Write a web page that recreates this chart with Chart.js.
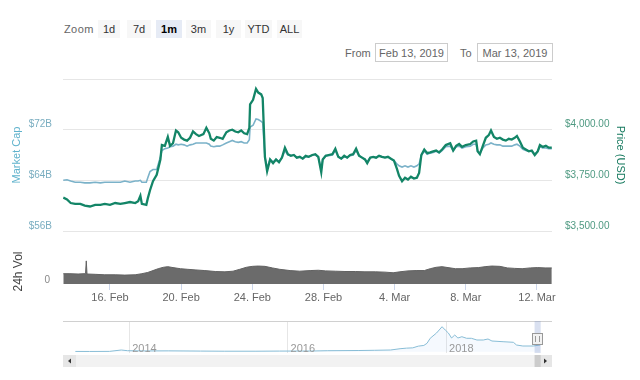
<!DOCTYPE html>
<html><head><meta charset="utf-8">
<script src="https://cdn.jsdelivr.net/npm/chart.js@4.4.1/dist/chart.umd.min.js"></script>
<style>
html,body{margin:0;padding:0;background:#fff;width:640px;height:380px;overflow:hidden;font-family:"Liberation Sans",Arial,sans-serif;}
.t{position:absolute;font-size:11px;color:#666;white-space:nowrap;}
.btn{position:absolute;top:20px;height:18px;line-height:18px;background:#f7f7f7;color:#333;font-size:11px;text-align:center;}
.sel{background:#e6ebf5;font-weight:bold;color:#000;}
.box{position:absolute;top:43px;height:19px;line-height:19px;border:1px solid #cccccc;color:#666;font-size:11px;text-align:center;box-sizing:border-box;}
canvas{position:absolute;left:0;}
</style></head><body>
<div class="t" style="left:64px;top:23px;letter-spacing:0.4px">Zoom</div>
<div class="btn" style="left:98px;width:22px">1d</div>
<div class="btn" style="left:127px;width:24px">7d</div>
<div class="btn sel" style="left:156px;width:26px">1m</div>
<div class="btn" style="left:186px;width:25px">3m</div>
<div class="btn" style="left:216px;width:25px">1y</div>
<div class="btn" style="left:245px;width:27px">YTD</div>
<div class="btn" style="left:277px;width:25px">ALL</div>
<div class="t" style="left:345px;top:47px">From</div>
<div class="box" style="left:375px;width:73px">Feb 13, 2019</div>
<div class="t" style="left:460px;top:47px">To</div>
<div class="box" style="left:477px;width:76px">Mar 13, 2019</div>
<canvas id="main" width="640" height="190" style="top:60px"></canvas>
<canvas id="vol" width="640" height="72" style="top:240px"></canvas>
<canvas id="nav" width="640" height="56" style="top:316px"></canvas>
<script>
const FONT = '"Liberation Sans", Arial, sans-serif';

// hours since 13 Feb 2019 00:00
const hours = [9,14,19,25,32,38,45,52,59,65,
 72,79,86,92,99,106,110,113,115,121,
 123,126,130,135,140,142,146,150,153,157,
 161,164,168,172,176,180,184,188,192,198,
 202,206,208,212,216,220,224,229,233,237,
 241,245,249,253,257,260,261,265,269,272,
 276,278,281,284,288,292,296,300,304,308,
 312,316,320,324,328,332,336,340,345,349,
 353,357,359,363,367,372,376,380,384,388,
 392,396,400,404,408,412,416,419,423,427,
 431,435,439,443,447,451,455,459,462,466,
 470,474,478,482,486,489,492,496,500,504,
 508,512,516,520,525,531,535,539,543,547,
 552,558,562,566,568,571,575,579,583,586,
 590,594,598,602,606,610,614,618,621,625,
 629,633,637,641,645,649,652,656,660,664,
 668];
const priceUSD = [3665,3656,3638,3634,3634,3625,3621,3629,3629,3634,
 3629,3638,3634,3638,3643,3638,3647,3674,3634,3629,
 3661,3701,3746,3777,3853,3924,3920,3964,3920,3933,
 3996,3987,3960,3951,3946,3960,3991,3978,3969,3978,
 4009,3982,3955,3946,3964,3960,3955,3987,3996,4000,
 3991,3987,3996,3982,3978,4009,4125,4147,4201,4183,
 4174,4156,3866,3795,3853,3835,3853,3839,3862,3911,
 3879,3871,3875,3862,3866,3857,3871,3866,3875,3879,
 3866,3790,3853,3871,3875,3879,3906,3866,3857,3871,
 3862,3875,3879,3906,3871,3862,3853,3835,3862,3866,
 3862,3871,3866,3862,3866,3857,3848,3808,3772,3746,
 3763,3754,3768,3759,3763,3786,3875,3902,3884,3888,
 3893,3897,3888,3902,3924,3933,3897,3920,3929,3915,
 3924,3929,3942,3946,3893,3879,3920,3960,3973,3996,
 3964,3955,3960,3951,3946,3955,3951,3960,3969,3942,
 3911,3902,3893,3897,3875,3893,3924,3915,3920,3911,
 3911];
const marketCapB = [64.0,64.1,63.9,63.7,63.7,63.6,63.6,63.7,63.6,63.7,
 63.7,63.7,63.7,63.9,63.7,63.9,63.9,64.0,63.7,63.7,
 64.4,65.4,65.7,65.7,67.7,68.7,69.0,69.1,69.3,69.4,
 69.7,69.6,69.7,69.6,69.4,69.6,69.7,69.9,69.9,69.9,
 69.9,69.7,69.4,69.3,69.4,69.4,69.6,69.9,70.1,70.3,
 70.1,70.0,70.1,69.9,69.9,70.4,72.4,72.7,73.7,73.6,
 73.3,73.1,67.7,66.0,67.3,66.9,67.3,67.0,67.6,68.7,
 68.0,67.9,68.0,67.6,67.7,67.4,67.7,67.7,68.0,68.0,
 67.7,65.7,67.3,67.9,67.9,68.0,68.7,67.7,67.4,67.7,
 67.6,67.9,68.0,68.7,67.9,67.6,67.3,66.9,67.6,67.7,
 67.6,67.9,67.7,67.6,67.7,67.4,67.1,66.6,66.3,66.1,
 66.3,66.1,66.3,66.1,66.3,66.6,67.9,68.6,68.1,68.3,
 68.4,68.6,68.3,68.7,69.3,69.4,68.7,69.3,69.4,69.1,
 69.3,69.4,69.7,69.7,68.6,68.3,69.1,69.6,69.7,69.9,
 69.7,69.6,69.6,69.4,69.4,69.4,69.4,69.6,69.7,69.4,
 68.9,68.7,68.6,68.6,68.1,68.6,69.3,69.1,69.1,69.0,
 69.0];

const volHours = [9,18,29,37,39,40,41,52,65,79,
 92,106,115,123,130,137,144,150,157,167,
 177,188,200,214,227,238,247,256,264,272,
 281,291,301,315,328,342,353,363,376,389,
 403,416,430,443,454,463,474,485,496,504,
 512,520,528,538,547,558,569,578,587,598,
 608,618,628,639,649,659,668];
const volumeB = [6.6,6.6,6.4,6.6,6.6,14.8,6.4,6.2,5.9,5.9,
 5.7,5.9,6.6,7.4,8.6,9.8,10.7,11.1,10.5,9.8,
 9.4,9.0,8.6,8.0,7.8,8.2,9.4,10.7,11.3,11.5,
 11.3,10.3,9.4,8.6,8.2,8.6,8.8,8.4,8.2,8.0,
 8.0,7.8,7.8,7.6,7.2,7.8,8.4,8.6,8.6,9.8,
 10.7,11.1,10.5,9.8,9.8,10.3,10.5,11.1,11.5,11.3,
 10.3,10.0,9.8,10.3,10.5,10.3,10.3];

const navYears = [2013.32,2013.5,2013.75,2013.9,2013.98,2014.2,2014.5,2014.9,2015.2,2015.6,
 2015.9,2016.3,2016.5,2016.9,2017.1,2017.3,2017.42,2017.5,2017.58,2017.65,
 2017.72,2017.76,2017.80,2017.88,2017.95,2017.99,2018.03,2018.07,2018.11,2018.15,
 2018.2,2018.26,2018.32,2018.39,2018.47,2018.53,2018.58,2018.72,2018.85,2018.89,
 2018.97,2019.1,2019.19];
const navValues = [300,280,330,1300,800,650,700,550,450,450,
 550,600,800,950,1100,1300,2200,2600,2800,4000,
 4500,6000,9500,13200,17600,15300,13200,9700,11800,9700,
 10600,9500,9500,8300,8300,9000,7600,7100,6700,4800,
 4100,4100,4800];

const capTicks = [56,64,72,80];
const priceTicks = [3500,3750,4000,4250];
const volTicks = [0];
const dateTickHours = [72,168,264,360,456,552,648];
const dateTickLabels = ['16. Feb','20. Feb','24. Feb','28. Feb','4. Mar','8. Mar','12. Mar'];
const navTickYears = [2014,2016,2018];
const navTickLabels = ['2014','2016','2018'];
const X_MIN = 8.6, X_MAX = 668.3;
const NAV_MIN = 2013.164, NAV_MAX = 2019.338;
const SEL_FROM = 2019.118, SEL_TO = 2019.195;

const common = {responsive:false, animation:false, events:[],
  plugins:{legend:{display:false}, tooltip:{enabled:false}}};

new Chart(document.getElementById('main'), {
  type:'line',
  data:{datasets:[
    {label:'Price (USD)', data:hours.map((h,i)=>({x:h,y:priceUSD[i]})), yAxisID:'yPrice',
     borderColor:'#138567', borderWidth:2.3, pointRadius:0, tension:0},
    {label:'Market Cap', data:hours.map((h,i)=>({x:h,y:marketCapB[i]})), yAxisID:'yCap',
     borderColor:'#7bb2c9', borderWidth:1.6, pointRadius:0, tension:0}
  ]},
  options:Object.assign({}, common, {
    layout:{padding:{top:14,bottom:8,left:0,right:0}},
    scales:{
      x:{type:'linear', min:X_MIN, max:X_MAX, display:false},
      yCap:{position:'left', min:56, max:80,
        afterBuildTicks:s=>{s.ticks = capTicks.map(v=>({value:v}));},
        afterFit:s=>{s.width = 63;},
        ticks:{color:'#79adc0', font:{size:10,family:FONT}, padding:11, labelOffset:-5,
          callback:v=> v===80 ? '' : '$'+v+'B'},
        grid:{color:'#e6e6e6', drawTicks:false},
        border:{display:false},
        title:{display:true, text:'Market Cap', color:'#5fb2cc', font:{size:11,family:FONT}, padding:{top:10,bottom:0}}
      },
      yPrice:{position:'right', min:3500, max:4250,
        afterBuildTicks:s=>{s.ticks = priceTicks.map(v=>({value:v}));},
        afterFit:s=>{s.width = 88;},
        ticks:{color:'#4f9a82', font:{size:10,family:FONT}, padding:13, labelOffset:-5,
          callback:v=> v===4250 ? '' : '$'+v.toLocaleString('en-US',{minimumFractionDigits:2})},
        grid:{display:false, drawTicks:false},
        border:{display:false},
        title:{display:true, text:'Price (USD)', color:'#177a5f', font:{size:11,family:FONT}, padding:{top:13,bottom:0}}
      }
    }
  })
});

new Chart(document.getElementById('vol'), {
  type:'line',
  data:{datasets:[
    {label:'24h Vol', data:volHours.map((h,i)=>({x:h,y:volumeB[i]})),
     borderColor:'#626262', borderWidth:1, backgroundColor:'#6b6b6b', fill:'origin', pointRadius:0, tension:0}
  ]},
  options:Object.assign({}, common, {
    layout:{padding:{top:4,bottom:0,left:0,right:88}},
    scales:{
      x:{type:'linear', min:X_MIN, max:X_MAX,
        afterBuildTicks:s=>{s.ticks = dateTickHours.map(v=>({value:v}));},
        afterFit:s=>{s.height = 28;},
        ticks:{color:'#666', font:{size:11,family:FONT}, padding:1, autoSkip:false, maxRotation:0,
          callback:v=> dateTickLabels[dateTickHours.indexOf(v)]},
        grid:{drawOnChartArea:false, drawTicks:true, tickLength:6, color:'#ccd6eb'},
        border:{display:false}
      },
      y:{position:'left', min:0, max:16,
        afterBuildTicks:s=>{s.ticks = volTicks.map(v=>({value:v}));},
        afterFit:s=>{s.width = 63;},
        ticks:{color:'#888', font:{size:10,family:FONT}, padding:13, labelOffset:-4},
        grid:{display:false, drawTicks:false},
        border:{display:false},
        title:{display:true, text:'24h Vol', color:'#444', font:{size:12,family:FONT}, padding:{top:11,bottom:0}}
      }
    }
  })
});

const navDeco = {
  id:'navDeco',
  afterDraw(chart){
    const {ctx, chartArea:a, scales:{x}} = chart;
    ctx.save();
    // year labels inside navigator
    ctx.fillStyle = '#999'; ctx.font = '11px ' + FONT;
    ctx.textAlign = 'left'; ctx.textBaseline = 'middle';
    navTickYears.forEach((yr,i)=>{ ctx.fillText(navTickLabels[i], x.getPixelForValue(yr)+3, a.bottom-4); });
    ctx.strokeStyle = '#d0d0d0'; ctx.lineWidth = 1;
    ctx.beginPath(); ctx.moveTo(a.left, a.top+0.5); ctx.lineTo(a.right, a.top+0.5); ctx.stroke();
    const sy = a.bottom + 2, sh = 12;
    ctx.fillStyle = '#f2f2f2'; ctx.fillRect(a.left, sy, a.right-a.left, sh);
    ctx.fillStyle = '#e6e6e6';
    ctx.fillRect(a.left, sy, 13, sh); ctx.fillRect(a.right-13, sy, 13, sh);
    ctx.fillStyle = '#333';
    ctx.beginPath(); ctx.moveTo(a.left+5, sy+6); ctx.lineTo(a.left+8, sy+3.5); ctx.lineTo(a.left+8, sy+8.5); ctx.fill();
    ctx.beginPath(); ctx.moveTo(a.right-5, sy+6); ctx.lineTo(a.right-8, sy+3.5); ctx.lineTo(a.right-8, sy+8.5); ctx.fill();
    const x1 = x.getPixelForValue(SEL_FROM), x2 = x.getPixelForValue(SEL_TO);
    ctx.fillStyle = '#cccccc'; ctx.fillRect(x1, sy, x2-x1, sh);
    ctx.fillStyle = 'rgba(102,133,194,0.25)'; ctx.fillRect(x1, a.top, x2-x1, a.bottom-a.top);
    const hy = a.top + 12;
    ctx.fillStyle = '#f2f2f2'; ctx.strokeStyle = '#999';
    ctx.fillRect(Math.round(x1)-2.5, hy+0.5, Math.round(x2-x1)+4, 11);
    ctx.strokeRect(Math.round(x1)-2.5, hy+0.5, Math.round(x2-x1)+4, 11);
    ctx.beginPath();
    ctx.moveTo(Math.round(x1)+0.5, hy+3); ctx.lineTo(Math.round(x1)+0.5, hy+9);
    ctx.moveTo(Math.round(x2)-1.5, hy+3); ctx.lineTo(Math.round(x2)-1.5, hy+9);
    ctx.stroke();
    ctx.restore();
  }
};

new Chart(document.getElementById('nav'), {
  type:'line',
  data:{datasets:[
    {label:'nav', data:navYears.map((t,i)=>({x:t,y:navValues[i]})),
     borderColor:'#88bdd6', borderWidth:1, backgroundColor:'rgba(124,181,236,0.08)', fill:'origin', pointRadius:0, tension:0}
  ]},
  options:Object.assign({}, common, {
    layout:{padding:{top:5,bottom:19,left:63,right:88}},
    scales:{
      x:{type:'linear', min:NAV_MIN, max:NAV_MAX,
        afterBuildTicks:s=>{s.ticks = navTickYears.map(v=>({value:v}));},
        afterFit:s=>{s.height = 0;},
        ticks:{display:false},
        grid:{color:'#e6e6e6', drawTicks:false},
        border:{display:false}
      },
      y:{display:false, min:-800, max:21600}
    }
  }),
  plugins:[navDeco]
});
</script>
</body></html>
